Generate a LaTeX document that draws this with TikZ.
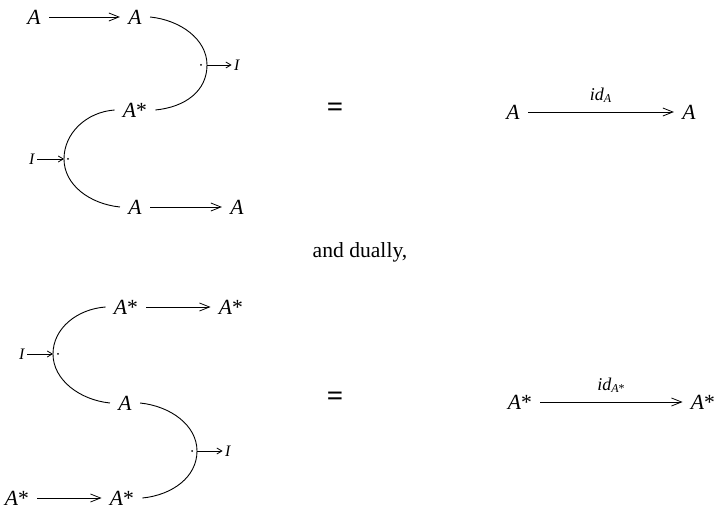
\documentclass[tikz,border=0pt]{standalone}
\usepackage{fontspec}
\setmainfont{Liberation Serif}
\usetikzlibrary{arrows.meta}
\newcommand{\obA}{\textit{A}}
\newcommand{\obAs}{\textit{A}*}
\newcommand{\obI}{\textit{I}}

\begin{document}
\begin{tikzpicture}[
    x=0.5pt, y=-0.5pt,
    font=\fontsize{10.8pt}{13pt}\selectfont,
    obj/.style={inner sep=4pt},
    unit/.style={inner sep=1pt, font=\fontsize{8pt}{9pt}\selectfont},
    tdot/.style={circle, fill, inner sep=0pt, minimum size=1pt},
    eqsign/.style={font=\Large\bfseries},
    lbl/.style={above=1pt, font=\fontsize{9pt}{10pt}\selectfont},
    arrow/.style={-{Straight Barb[length=5pt,width=4pt]}},
    sarrow/.style={-{Straight Barb[length=2.5pt,width=3pt]}},
    cup/.style={line width=0.45pt}
  ]
    \useasboundingbox (0,0) rectangle (718,513);
    % upper identity
    \node[obj] (a1) at (34,17) {\obA};
    \node[obj] (a2) at (135,17) {\obA};
    \coordinate (d1) at (207,65);
    \node[tdot] at (201,65) {};
    \node[unit] (i1) at (237,65) {\obI};
    \node[obj] (s1) at (135,110) {\obAs};
    \coordinate (d2) at (64,159);
    \node[tdot] at (68,159) {};
    \node[unit] (i2) at (32,159) {\obI};
    \node[obj] (a3) at (135,207) {\obA};
    \node[obj] (a4) at (237,207) {\obA};
    \draw[arrow] (a1) -- (a2);
    \draw[cup] (a2.east) .. controls +(30,3) and +(0,-26) .. (d1)
      .. controls +(0,26) and +(30,-3) .. (s1.east);
    \draw[sarrow] (d1) -- (i1);
    \draw[cup] (s1.west) .. controls +(-28,2) and +(0,-26) .. (d2)
      .. controls +(0,26) and +(-30,-3) .. (a3.west);
    \draw[sarrow] (i2) -- (d2);
    \draw[arrow] (a3) -- (a4);
    \node[eqsign] (eq1) at (335,110) {=};
    \node[obj] (r1) at (513,112) {\obA};
    \node[obj] (r2) at (689,112) {\obA};
    \draw[arrow] (r1) -- node[lbl] {\textit{id}\textsubscript{\textit{A}}} (r2);
    \node (dual) at (360,252) {and dually,};
    % lower identity
    \node[obj] (b1) at (126,307) {\obAs};
    \node[obj] (b2) at (231,307) {\obAs};
    \coordinate (d3) at (53,354);
    \node[tdot] at (58,354) {};
    \node[unit] (i3) at (22,354) {\obI};
    \node[obj] (b3) at (125,403) {\obA};
    \coordinate (d4) at (197,451);
    \node[tdot] at (192,451) {};
    \node[unit] (i4) at (228,451) {\obI};
    \node[obj] (b4) at (17,498) {\obAs};
    \node[obj] (b5) at (122,498) {\obAs};
    \draw[arrow] (b1) -- (b2);
    \draw[cup] (b1.west) .. controls +(-28,2) and +(0,-26) .. (d3)
      .. controls +(0,26) and +(-30,-3) .. (b3.west);
    \draw[sarrow] (i3) -- (d3);
    \draw[cup] (b3.east) .. controls +(30,3) and +(0,-26) .. (d4)
      .. controls +(0,26) and +(30,-3) .. (b5.east);
    \draw[sarrow] (d4) -- (i4);
    \draw[arrow] (b4) -- (b5);
    \node[eqsign] (eq2) at (335,399) {=};
    \node[obj] (r3) at (520,402) {\obAs};
    \node[obj] (r4) at (703,402) {\obAs};
    \draw[arrow] (r3) -- node[lbl] {\textit{id}\textsubscript{\textit{A}*}} (r4);
  \end{tikzpicture}
\end{document}
